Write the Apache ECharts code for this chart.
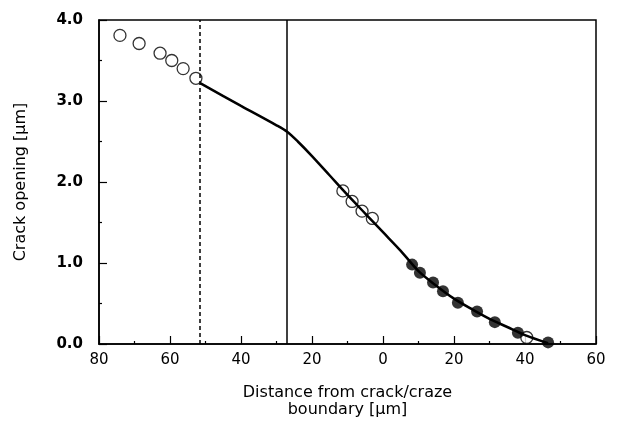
<!DOCTYPE html>
<html>
<head>
<meta charset="utf-8">
<script src="https://cdn.jsdelivr.net/npm/echarts@6/dist/echarts.min.js"></script>
<style>
  html, body { margin: 0; padding: 0; background: #fff; }
  #chart { width: 620px; height: 435px; }
</style>
</head>
<body>
<div id="chart"></div>
<script>
// crack side is negative x, craze side positive x (labels shown as absolute values)
var openCrackPts = [[-74.1, 3.81], [-68.7, 3.71], [-62.8, 3.59], [-59.5, 3.50], [-56.3, 3.40], [-52.7, 3.28]];
var openCrazePts = [[-11.3, 1.89], [-8.7, 1.76], [-5.9, 1.64], [-3.0, 1.55], [40.5, 0.08]];
var filledPts = [[8.2, 0.98], [10.4, 0.88], [14.1, 0.76], [16.9, 0.65], [21.1, 0.51], [26.5, 0.40], [31.5, 0.27], [38.0, 0.14], [46.5, 0.02]];
var fitCurve = [[-51.5, 3.22], [-40, 2.94], [-30, 2.70], [-27, 2.62], [-24, 2.50], [-20, 2.32],
  [-15, 2.08], [-10, 1.84], [-5, 1.61], [0, 1.38], [5, 1.15], [10, 0.90], [15, 0.72], [20, 0.56],
  [25, 0.43], [30, 0.31], [35, 0.21], [40, 0.11], [46.5, 0.01]];
var dashedX = -51.5;
var solidX = -27;
var xTicks = [80, 60, 40, 20, 0, 20, 40, 60];
var yTicks = ['0.0', '1.0', '2.0', '3.0', '4.0'];

var chart = echarts.init(document.getElementById('chart'));
var font = 'DejaVu Sans, Arial, sans-serif';

chart.setOption({
  backgroundColor: '#fff',
  animation: false,
  grid: {
    left: 99,
    right: 24,
    top: 20,
    bottom: 91,
    show: true,
    borderColor: '#000',
    borderWidth: 1.5
  },
  xAxis: {
    type: 'value',
    min: -80,
    max: 60,
    interval: 20,
    name: 'Distance from crack/craze\nboundary [μm]',
    nameLocation: 'middle',
    nameGap: 40,
    nameTextStyle: { fontFamily: font, fontSize: 16, color: '#000', lineHeight: 17 },
    axisLine: { show: true, onZero: false, lineStyle: { color: '#000', width: 1.5 } },
    axisTick: { inside: true, length: 8, lineStyle: { color: '#000', width: 1.2 } },
    minorTick: { show: true, splitNumber: 2, length: 3, lineStyle: { color: '#000', width: 1.2 } },
    splitLine: { show: false },
    axisLabel: {
      margin: 9,
      fontFamily: font,
      fontSize: 15,
      color: '#000',
      formatter: function (v) { return String(xTicks[Math.round((v + 80) / 20)]); }
    }
  },
  yAxis: {
    type: 'value',
    min: 0,
    max: 4,
    interval: 1,
    name: 'Crack opening [μm]',
    nameLocation: 'middle',
    nameGap: 70,
    nameTextStyle: { fontFamily: font, fontSize: 16, color: '#000' },
    axisLine: { show: true, onZero: false, lineStyle: { color: '#000', width: 1.5 } },
    axisTick: { inside: true, length: 8, lineStyle: { color: '#000', width: 1.2 } },
    minorTick: { show: true, splitNumber: 2, length: 3, lineStyle: { color: '#000', width: 1.2 } },
    splitLine: { show: false },
    axisLabel: {
      margin: 16,
      fontFamily: font,
      fontSize: 15,
      fontWeight: 'bold',
      color: '#000',
      formatter: function (v) { return yTicks[Math.round(v)]; }
    }
  },
  series: [
    {
      type: 'line',
      data: fitCurve,
      smooth: 0.3,
      showSymbol: false,
      lineStyle: { color: '#000', width: 2.5 },
      markLine: {
        silent: true,
        symbol: 'none',
        label: { show: false },
        data: [
          { xAxis: dashedX, lineStyle: { color: '#000', width: 1.5, type: [4, 3] } },
          { xAxis: solidX, lineStyle: { color: '#000', width: 1.5, type: 'solid' } }
        ]
      }
    },
    {
      type: 'scatter',
      data: openCrackPts.concat(openCrazePts),
      symbol: 'circle',
      symbolSize: 12,
      itemStyle: { color: '#fff', borderColor: '#000', borderWidth: 1.3 }
    },
    {
      type: 'scatter',
      data: filledPts,
      symbol: 'circle',
      symbolSize: 12,
      itemStyle: { color: '#000' }
    }
  ]
});
</script>
</body>
</html>
